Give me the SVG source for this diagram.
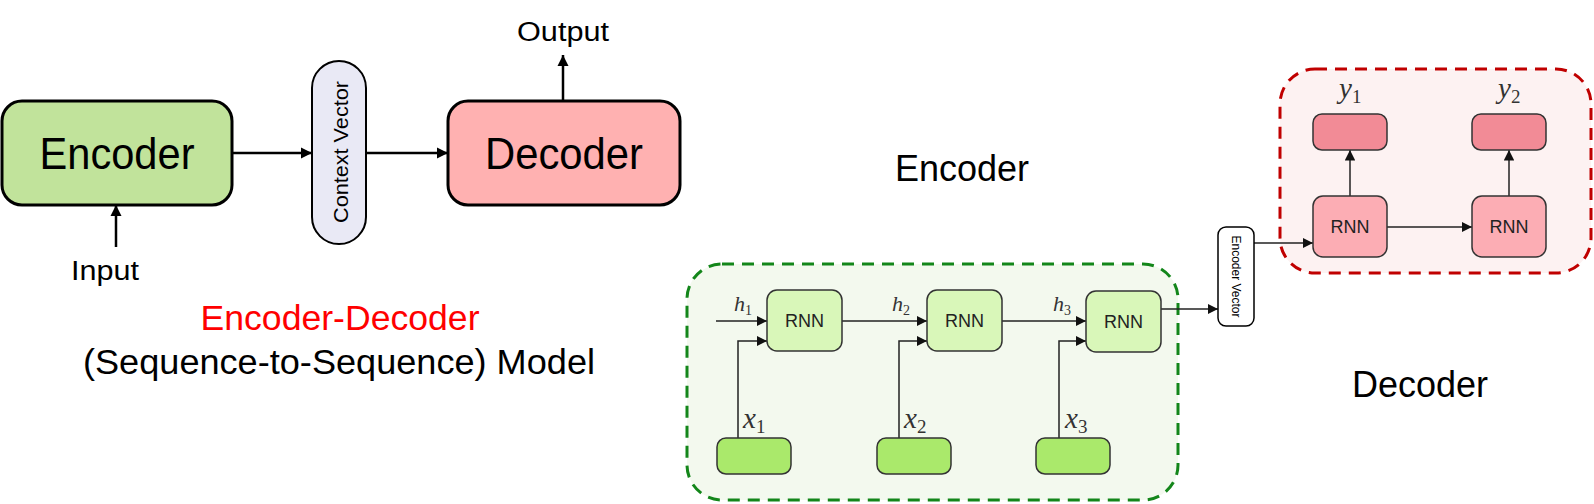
<svg xmlns="http://www.w3.org/2000/svg" width="1594" height="504" viewBox="0 0 1594 504">
<style>
.sans{font-family:"Liberation Sans",Arial,sans-serif;}
.big{font-size:44px;fill:#000;text-anchor:middle;}
.lbl{font-size:27px;fill:#000;text-anchor:middle;}
.box{stroke:#000;stroke-width:3;}
.node{stroke:#333;stroke-width:1.5;}
.rnn{font-family:"Liberation Sans",Arial,sans-serif;font-size:18px;fill:#222;text-anchor:middle;}
.mi{font-family:"Liberation Serif","Times New Roman",serif;font-style:italic;fill:#333;}
.sub{font-style:normal;}
.conn{fill:none;stroke:#000;stroke-width:2.5;}
.thin{fill:none;stroke:#222;stroke-width:1.5;}
</style>
<defs>
<marker id="ah" viewBox="0 0 10 10" refX="10" refY="5" markerWidth="4.5" markerHeight="4.5" orient="auto" markerUnits="strokeWidth">
<path d="M0,0 L10,5 L0,10 z" fill="#000"/>
</marker>
<marker id="as" viewBox="0 0 10 10" refX="10" refY="5" markerWidth="7" markerHeight="7" orient="auto" markerUnits="strokeWidth">
<path d="M0,0 L10,5 L0,10 z" fill="#111"/>
</marker>
</defs>

<!-- Left simple model -->
<g id="encoder-left">
<rect class="box" x="2" y="101" width="230" height="104" rx="20" fill="#c1e39b"/>
<text class="sans big" x="117" y="169" textLength="155" lengthAdjust="spacingAndGlyphs">Encoder</text>
</g>
<g id="context-vector">
<rect x="312" y="61" width="54" height="183" rx="27" fill="#e9e9f5" stroke="#000" stroke-width="2"/>
<text class="sans" font-size="21" text-anchor="middle" transform="translate(340,152) rotate(-90)" x="0" y="7.5" textLength="142" lengthAdjust="spacingAndGlyphs">Context Vector</text>
</g>
<g id="decoder-left">
<rect class="box" x="448" y="101" width="232" height="104" rx="20" fill="#ffb1b1"/>
<text class="sans big" x="564" y="169" textLength="158" lengthAdjust="spacingAndGlyphs">Decoder</text>
</g>
<g id="output-label"><text class="sans lbl" x="563" y="41" textLength="92" lengthAdjust="spacingAndGlyphs">Output</text></g>
<g id="input-label"><text class="sans lbl" x="105" y="280" textLength="68" lengthAdjust="spacingAndGlyphs">Input</text></g>
<g id="title">
<text class="sans" font-size="35" fill="#ff0000" text-anchor="middle" x="340" y="330" textLength="279" lengthAdjust="spacingAndGlyphs">Encoder-Decoder</text>
<text class="sans" font-size="35" fill="#000" text-anchor="middle" x="339" y="374" textLength="512" lengthAdjust="spacingAndGlyphs">(Sequence-to-Sequence) Model</text>
</g>

<!-- Right detailed model -->
<g id="encoder-title"><text class="sans" font-size="36" text-anchor="middle" x="962" y="181" fill="#000">Encoder</text></g>
<g id="decoder-title"><text class="sans" font-size="36" text-anchor="middle" x="1420" y="397" fill="#000">Decoder</text></g>

<g id="encoder-group">
<rect x="687" y="264" width="491" height="236" rx="35" fill="#f3f9ee" stroke="#13861a" stroke-width="3" stroke-dasharray="12 8"/>
</g>
<g id="decoder-group">
<rect x="1280" y="69" width="311" height="204" rx="35" fill="#fdf2f2" stroke="#c00000" stroke-width="3" stroke-dasharray="12 8"/>
</g>

<g id="connectors">
<line class="conn" x1="232" y1="153" x2="312" y2="153" marker-end="url(#ah)"/>
<line class="conn" x1="366" y1="153" x2="448" y2="153" marker-end="url(#ah)"/>
<line class="conn" x1="563" y1="101" x2="563" y2="55" marker-end="url(#ah)"/>
<line class="conn" x1="116" y1="247" x2="116" y2="205" marker-end="url(#ah)"/>
<line class="thin" x1="716" y1="321" x2="767" y2="321" marker-end="url(#as)"/>
<line class="thin" x1="842" y1="321" x2="927" y2="321" marker-end="url(#as)"/>
<line class="thin" x1="1001" y1="321" x2="1086" y2="321" marker-end="url(#as)"/>
<polyline class="thin" points="738,438 738,341 767,341" marker-end="url(#as)"/>
<polyline class="thin" points="899,438 899,341 927,341" marker-end="url(#as)"/>
<polyline class="thin" points="1059,438 1059,341 1086,341" marker-end="url(#as)"/>
<line class="thin" x1="1161" y1="309" x2="1218" y2="309" marker-end="url(#as)"/>
<line class="thin" x1="1254" y1="243" x2="1313" y2="243" marker-end="url(#as)"/>
<line class="thin" x1="1387" y1="227" x2="1472" y2="227" marker-end="url(#as)"/>
<line class="thin" x1="1350" y1="196" x2="1350" y2="150" marker-end="url(#as)"/>
<line class="thin" x1="1509" y1="196" x2="1509" y2="150" marker-end="url(#as)"/>
</g>

<g id="enc-rnn1"><rect class="node" x="767" y="290" width="75" height="61" rx="10" fill="#d9f7b9"/><text class="rnn" x="804.5" y="327">RNN</text></g>
<g id="enc-rnn2"><rect class="node" x="927" y="290" width="75" height="61" rx="10" fill="#d9f7b9"/><text class="rnn" x="964.5" y="327">RNN</text></g>
<g id="enc-rnn3"><rect class="node" x="1086" y="291" width="75" height="61" rx="10" fill="#d9f7b9"/><text class="rnn" x="1123.5" y="328">RNN</text></g>

<g id="in-x1"><rect class="node" x="717" y="438" width="74" height="36" rx="9" fill="#aae96b"/></g>
<g id="in-x2"><rect class="node" x="877" y="438" width="74" height="36" rx="9" fill="#aae96b"/></g>
<g id="in-x3"><rect class="node" x="1036" y="438" width="74" height="36" rx="9" fill="#aae96b"/></g>

<g id="labels-math">
<text class="mi" font-size="22" x="734" y="311">h<tspan class="sub" font-size="14" dy="4">1</tspan></text>
<text class="mi" font-size="22" x="892" y="311">h<tspan class="sub" font-size="14" dy="4">2</tspan></text>
<text class="mi" font-size="22" x="1053" y="311">h<tspan class="sub" font-size="14" dy="4">3</tspan></text>
<text class="mi" font-size="29" x="743" y="428">x<tspan class="sub" font-size="19" dy="5">1</tspan></text>
<text class="mi" font-size="29" x="904" y="428">x<tspan class="sub" font-size="19" dy="5">2</tspan></text>
<text class="mi" font-size="29" x="1065" y="428">x<tspan class="sub" font-size="19" dy="5">3</tspan></text>
<text class="mi" font-size="29" x="1339" y="98">y<tspan class="sub" font-size="19" dy="5">1</tspan></text>
<text class="mi" font-size="29" x="1498" y="98">y<tspan class="sub" font-size="19" dy="5">2</tspan></text>
</g>

<g id="encoder-vector">
<rect x="1218" y="227" width="36" height="99" rx="8" fill="#fff" stroke="#000" stroke-width="1.5"/>
<text class="sans" font-size="12" text-anchor="middle" transform="translate(1236,276.5) rotate(90)" x="0" y="4.3" fill="#000">Encoder Vector</text>
</g>

<g id="dec-rnn1"><rect class="node" x="1313" y="196" width="74" height="61" rx="10" fill="#fcadb4"/><text class="rnn" x="1350" y="233">RNN</text></g>
<g id="dec-rnn2"><rect class="node" x="1472" y="196" width="74" height="61" rx="10" fill="#fcadb4"/><text class="rnn" x="1509" y="233">RNN</text></g>
<g id="out-y1"><rect class="node" x="1313" y="114" width="74" height="36" rx="9" fill="#f28b96"/></g>
<g id="out-y2"><rect class="node" x="1472" y="114" width="74" height="36" rx="9" fill="#f28b96"/></g>
</svg>
